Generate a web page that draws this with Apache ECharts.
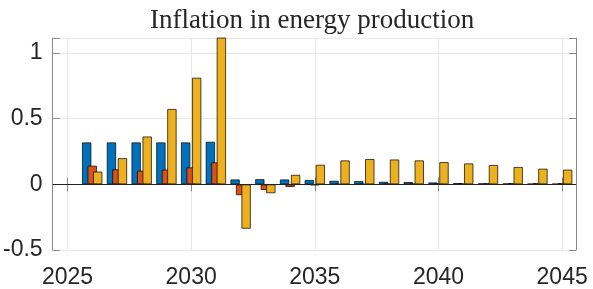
<!DOCTYPE html>
<html>
<head>
<meta charset="utf-8">
<script src="https://cdn.jsdelivr.net/npm/echarts@6/dist/echarts.min.js"></script>
<style>
  html, body { margin: 0; padding: 0; background: #fff; }
  #chart { width: 593px; height: 289px; }
</style>
</head>
<body>
<div id="chart"></div>
<script>
const years = [2026, 2027, 2028, 2029, 2030, 2031, 2032, 2033, 2034, 2035,
  2036, 2037, 2038, 2039, 2040, 2041, 2042, 2043, 2044, 2045];
const seriesA = [0.32, 0.32, 0.32, 0.32, 0.32, 0.325, 0.038, 0.04, 0.038, 0.034,
  0.028, 0.025, 0.02, 0.018, 0.015, 0.01, 0.008, 0.007, 0.005, 0.005];
const seriesB = [0.143, 0.115, 0.105, 0.113, 0.13, 0.168, -0.083, -0.043, -0.02, -0.007,
  0.002, 0.003, 0.005, 0.005, 0.006, 0.007, 0.008, 0.008, 0.008, 0.008];
const seriesC = [0.098, 0.2, 0.365, 0.575, 0.813, 1.2, -0.338, -0.068, 0.073, 0.15,
  0.183, 0.193, 0.19, 0.183, 0.17, 0.16, 0.148, 0.133, 0.12, 0.113];
const colors = ['#0072BD', '#D95319', '#EDB120'];

const chart = echarts.init(document.getElementById('chart'));

const boxColor = '#8a8a8a';
const labelStyle = { color: '#262626', fontSize: 23, fontFamily: 'Liberation Sans, Arial, sans-serif' };

function barSeries(values, i) {
  return {
    type: 'bar',
    data: years.map((y, k) => [y, values[k]]),
    barWidth: 9.5,
    barGap: '-42%',
    itemStyle: { color: colors[i], borderColor: 'rgba(0,0,0,0.7)', borderWidth: 1 },
    emphasis: { disabled: true },
    animation: false,
  };
}

const series = [barSeries(seriesA, 0), barSeries(seriesB, 1), barSeries(seriesC, 2)];
series[2].markLine = {
  silent: true,
  symbol: 'none',
  label: { show: false },
  lineStyle: { color: '#222', width: 1, type: 'solid' },
  data: [{ yAxis: 0 }],
  animation: false,
};

const option = {
  animation: false,
  graphic: [{
    type: 'text',
    left: 150,
    top: 7,
    style: {
      text: 'Inflation in energy production',
      fill: '#262626',
      font: '27px "Liberation Serif", "Times New Roman", serif',
    },
  }],
  grid: { left: 51, right: 17, top: 38, bottom: 36 },
  xAxis: [{
    type: 'value',
    min: 2024.4,
    max: 2045.56,
    splitNumber: 4,
    axisLine: { show: true, lineStyle: { color: boxColor, width: 1 } },
    axisTick: { show: true, inside: true, length: 7, lineStyle: { color: boxColor } },
    axisLabel: Object.assign({ margin: 16, formatter: v => (Math.abs(v % 5) < 1e-9 ? String(v) : '') }, labelStyle),
    splitLine: { show: true, lineStyle: { color: '#e8e8e8', width: 1 } },
  }, {
    type: 'value',
    position: 'top',
    min: 2024.4,
    max: 2045.56,
    splitNumber: 4,
    axisLine: { show: true, lineStyle: { color: boxColor, width: 1 } },
    axisTick: { show: true, inside: true, length: 7, lineStyle: { color: boxColor } },
    axisLabel: { show: false },
    splitLine: { show: false },
  }],
  yAxis: [{
    type: 'value',
    min: -0.5,
    max: 1.115,
    interval: 0.5,
    axisLine: { show: true, lineStyle: { color: boxColor, width: 1 } },
    axisTick: { show: true, inside: true, length: 7, lineStyle: { color: boxColor } },
    axisLabel: Object.assign({
      margin: 10,
      padding: [4, 0, 0, 0],
      formatter: v => (Math.abs(v * 2 - Math.round(v * 2)) < 1e-9 ? String(Math.round(v * 2) / 2) : ''),
    }, labelStyle),
    splitLine: { show: true, lineStyle: { color: '#e8e8e8', width: 1 } },
  }, {
    type: 'value',
    position: 'right',
    min: -0.5,
    max: 1.115,
    interval: 0.5,
    axisLine: { show: true, lineStyle: { color: boxColor, width: 1 } },
    axisTick: { show: true, inside: true, length: 7, lineStyle: { color: boxColor } },
    axisLabel: { show: false },
    splitLine: { show: false },
  }],
  series: series,
};

chart.setOption(option);
</script>
</body>
</html>
